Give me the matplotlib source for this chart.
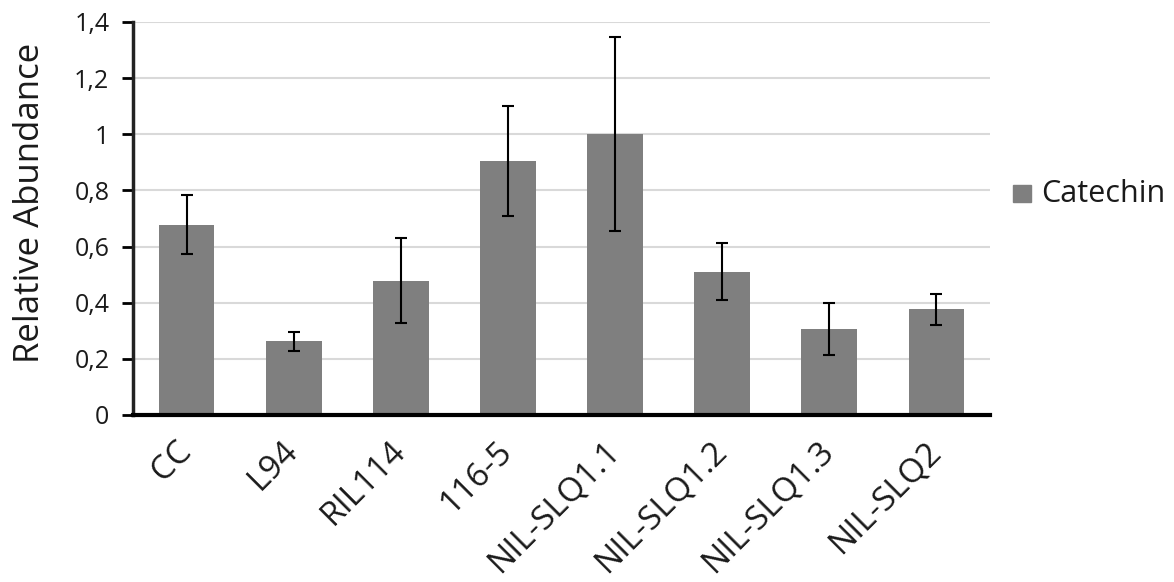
import matplotlib
matplotlib.use("Agg")
import matplotlib.pyplot as plt
import matplotlib.patches as patches
from matplotlib.transforms import ScaledTranslation

plt.rcParams["font.family"] = ["Open Sans", "DejaVu Sans"]

categories = ["CC", "L94", "RIL114", "116-5", "NIL-SLQ1.1", "NIL-SLQ1.2", "NIL-SLQ1.3", "NIL-SLQ2"]
catechin = [0.677, 0.262, 0.479, 0.905, 1.0, 0.51, 0.306, 0.376]
catechin_err = [0.105, 0.034, 0.152, 0.195, 0.345, 0.102, 0.093, 0.054]
y_ticks = [0, 0.2, 0.4, 0.6, 0.8, 1.0, 1.2, 1.4]
y_tick_labels = ["0", "0,2", "0,4", "0,6", "0,8", "1", "1,2", "1,4"]

BAR_COLOR = "#7f7f7f"
TEXT_COLOR = "#1a1a1a"

fig = plt.figure(figsize=(11.74, 5.82), dpi=100)
ax = fig.add_axes([133 / 1174, 1 - 415 / 582, (990 - 133) / 1174, (415 - 22) / 582])

x = range(len(categories))
ax.bar(x, catechin, width=0.52, color=BAR_COLOR, zorder=2, label="Catechin")
ax.errorbar(x, catechin, yerr=catechin_err, fmt="none", ecolor="black",
            elinewidth=1.5, capsize=4, capthick=1.5, zorder=3)

ax.set_xlim(-0.5, len(categories) - 0.5)
ax.set_ylim(0, 1.4)
ax.set_yticks(y_ticks)
ax.set_yticklabels(y_tick_labels, fontsize=18, color=TEXT_COLOR)
ax.set_xticks(list(x))
ax.set_xticklabels(categories, rotation=45, ha="right", rotation_mode="anchor",
                   fontsize=24, color=TEXT_COLOR)
ax.tick_params(axis="x", length=0, pad=14)
ax.tick_params(axis="y", length=8, width=2, direction="out", pad=9)
# nudge the rotated labels left so their ends sit near the ticks
shift = ScaledTranslation(-12 / 100, 0, fig.dpi_scale_trans)
for lbl in ax.get_xticklabels():
    lbl.set_transform(lbl.get_transform() + shift)

ax.set_ylabel("Relative Abundance", fontsize=25, color=TEXT_COLOR)
ax.yaxis.set_label_coords(-0.100, 0.54)

ax.grid(axis="y", color="#d9d9d9", linewidth=1.5, zorder=0)
ax.set_axisbelow(True)
for side in ["top", "right"]:
    ax.spines[side].set_visible(False)
ax.spines["left"].set_linewidth(2.5)
ax.spines["left"].set_color("#222222")
ax.spines["bottom"].set_linewidth(3)
ax.spines["bottom"].set_color("black")

# legend entry to the right of the plot
fig.patches.append(patches.Rectangle((1013 / 1174, 1 - 202 / 582), 18 / 1174, 17 / 582,
                                     transform=fig.transFigure, color=BAR_COLOR))
fig.text(1041 / 1174, 1 - 194 / 582, "Catechin", fontsize=22, va="center", ha="left", color=TEXT_COLOR)

fig.savefig("out.png", dpi=100)
